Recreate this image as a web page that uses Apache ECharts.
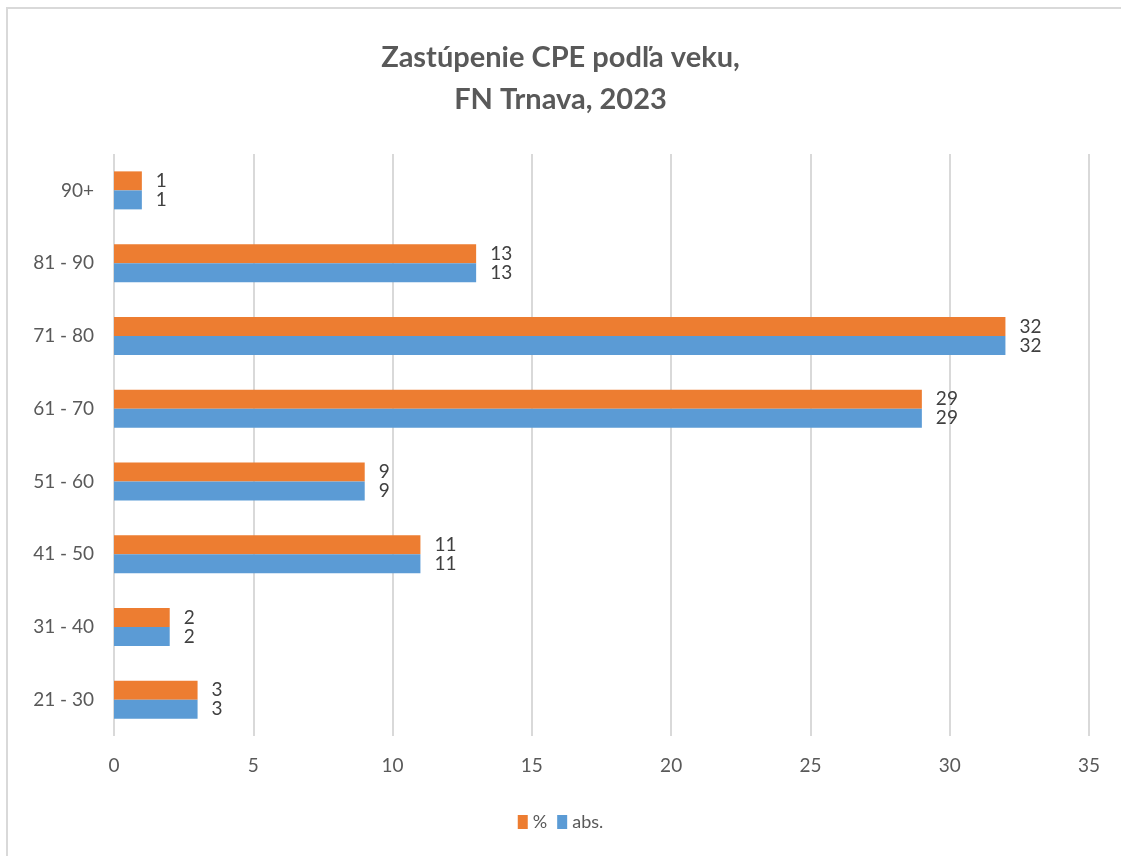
<!DOCTYPE html>
<html>
<head>
<meta charset="utf-8">
<script src="https://cdn.jsdelivr.net/npm/echarts@6/dist/echarts.min.js"></script>
<style>
  html, body { margin: 0; padding: 0; background: #fff; }
  #chart { width: 1121px; height: 856px; }
</style>
</head>
<body>
<div id="chart"></div>
<script>
var categories = ['21 - 30', '31 - 40', '41 - 50', '51 - 60', '61 - 70', '71 - 80', '81 - 90', '90+'];
var percentValues = [3, 2, 11, 9, 29, 32, 13, 1];
var absValues = [3, 2, 11, 9, 29, 32, 13, 1];
var xTicks = { min: 0, max: 35, interval: 5 };

var chart = echarts.init(document.getElementById('chart'));
var fontFam = 'Lato, "Open Sans", sans-serif';

var labelStyle = {
    show: true,
    position: 'right',
    distance: 14,
    color: '#404040',
    fontSize: 19,
    fontFamily: fontFam
};

var option = {
    animation: false,
    backgroundColor: '#fff',
    title: {
        text: 'Zastúpenie CPE podľa veku,\nFN Trnava, 2023',
        left: 'center',
        top: 32,
        textStyle: {
            color: '#595959',
            fontSize: 29,
            fontWeight: 'bold',
            fontFamily: fontFam,
            lineHeight: 42
        }
    },
    legend: {
        data: ['%', 'abs.'],
        bottom: 20,
        left: 'center',
        itemWidth: 10,
        itemHeight: 14,
        itemGap: 10,
        icon: 'rect',
        textStyle: { color: '#595959', fontSize: 18, fontFamily: fontFam }
    },
    grid: { left: 114, right: 32, top: 154, bottom: 120 },
    xAxis: {
        type: 'value',
        min: xTicks.min,
        max: xTicks.max,
        interval: xTicks.interval,
        axisLine: { show: false },
        axisTick: { show: false },
        axisLabel: { color: '#595959', fontSize: 19, fontFamily: fontFam, margin: 20 },
        splitLine: { lineStyle: { color: '#d9d9d9', width: 2 } }
    },
    yAxis: {
        type: 'category',
        data: categories,
        axisLine: { show: false },
        axisTick: { show: false },
        axisLabel: { color: '#595959', fontSize: 19, fontFamily: fontFam, margin: 20 }
    },
    series: [
        {
            name: '%',
            type: 'bar',
            data: percentValues,
            barWidth: 19,
            barGap: '0%',
            itemStyle: { color: '#ed7d31' },
            label: labelStyle
        },
        {
            name: 'abs.',
            type: 'bar',
            data: absValues,
            barWidth: 19,
            barGap: '0%',
            itemStyle: { color: '#5b9bd5' },
            label: labelStyle
        }
    ],
    graphic: [{
        type: 'rect',
        shape: { x: 7, y: 8, width: 1130, height: 860 },
        style: { fill: 'none', stroke: '#d9d9d9', lineWidth: 2 },
        silent: true
    }]
};

chart.setOption(option);
</script>
</body>
</html>
